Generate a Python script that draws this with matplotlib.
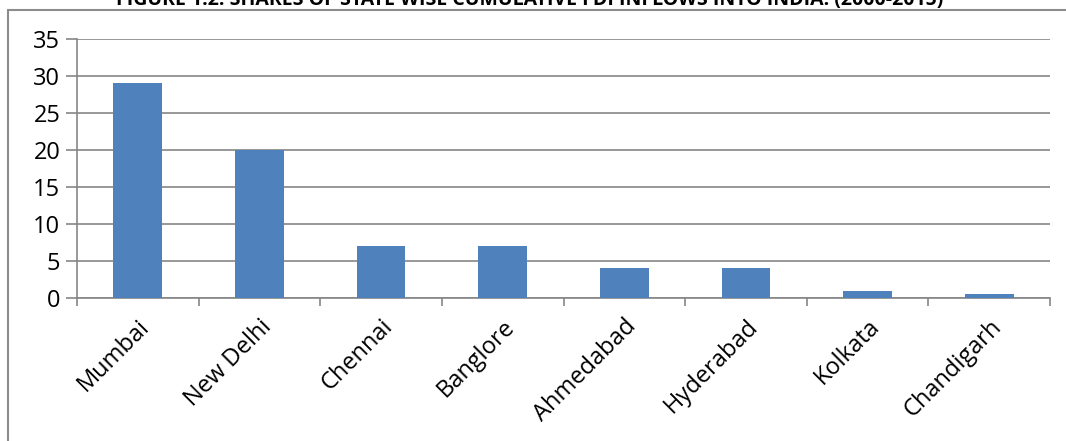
import matplotlib.pyplot as plt
from matplotlib.patches import Rectangle

plt.rcParams['font.family'] = ['Open Sans', 'DejaVu Sans']

# FDI share (%) by city
cities = ['Mumbai', 'New Delhi', 'Chennai', 'Banglore', 'Ahmedabad',
          'Hyderabad', 'Kolkata', 'Chandigarh']
shares = [29, 20, 7, 7, 4, 4, 1, 0.5]
yticks = [0, 5, 10, 15, 20, 25, 30, 35]

fig = plt.figure(figsize=(10.66, 4.41), dpi=100)

# outer chart frame (partly cut off like the scanned page)
fig.patches.append(Rectangle((8 / 1066, -0.1), 1.2, (441 - 10) / 441 + 0.1,
                             transform=fig.transFigure, fill=False,
                             edgecolor='#8c8c8c', linewidth=1.5))

# title is cut at the top of the image
fig.text(0.497, 1.0, 'FIGURE 1.2: SHARES OF STATE WISE CUMULATIVE FDI INFLOWS INTO INDIA: (2000-2015)',
         ha='center', va='center', fontsize=14, fontweight='bold', color='black')

ax = fig.add_axes([77 / 1066, 1 - 298 / 441, (1050 - 77) / 1066, (298 - 39) / 441])
x = range(len(cities))
ax.bar(x, shares, width=0.4, color='#4f81bd', zorder=3)

ax.set_ylim(0, 35)
ax.set_xlim(-0.5, len(cities) - 0.5)
ax.set_yticks(yticks)
ax.yaxis.grid(True, color='#868686', linewidth=1.2, zorder=0)

for s in ['top', 'right']:
    ax.spines[s].set_visible(False)
ax.spines['left'].set_color('#868686')
ax.spines['bottom'].set_color('#868686')
ax.spines['left'].set_linewidth(1.2)
ax.spines['bottom'].set_linewidth(1.2)

ax.set_xticks([i - 0.5 for i in range(len(cities) + 1)])
ax.set_xticklabels([])
ax.set_xticks(list(x), minor=True)
ax.set_xticklabels(cities, minor=True, rotation=45, ha='right',
                   rotation_mode='anchor', fontsize=17)
ax.tick_params(axis='x', which='minor', length=0, pad=12)
ax.tick_params(axis='x', which='major', length=6, color='#868686', width=1.2)
ax.tick_params(axis='y', length=8, color='#868686', width=1.2, labelsize=17, pad=4)

fig.savefig('out.png', dpi=100)
